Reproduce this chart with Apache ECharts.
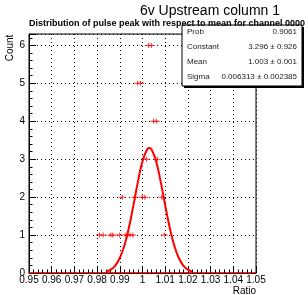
<!DOCTYPE html>
<html><head><meta charset="utf-8">
<script src="https://cdn.jsdelivr.net/npm/echarts@6/dist/echarts.min.js"></script>
<style>html,body{margin:0;padding:0;background:#fff}#c{width:308px;height:295px}</style>
</head><body><div id="c"></div>
<script>
// Histogram entries (x position of bins) grouped by bin count
var xCount1 = [0.9810, 0.9827, 0.9861, 0.9869, 0.9898, 0.9927, 0.9935, 0.9945, 0.9957, 1.0096];
var xCount2 = [0.9911, 0.9967, 0.9999, 1.0010, 1.0085];
var xCount3 = [1.0018, 1.0065];
var xCount4 = [1.0049, 1.0061];
var xCount5 = [0.9979, 0.9991];
var xCount6 = [1.0027, 1.0039];
// Fitted gaussian curve
var curveX = [0.984, 0.986, 0.988, 0.990, 0.992, 0.994, 0.996, 0.998, 1.000, 1.002, 1.003, 1.004, 1.006, 1.008, 1.010, 1.012, 1.014, 1.016, 1.018, 1.020, 1.022];
var curveY = [0.036, 0.088, 0.196, 0.396, 0.722, 1.193, 1.783, 2.409, 2.944, 3.255, 3.296, 3.255, 2.944, 2.409, 1.783, 1.193, 0.722, 0.396, 0.196, 0.088, 0.036];
var zeroLineX = [0.95, 1.05];
var statsLabels = ['Prob', 'Constant', 'Mean', 'Sigma'];
var statsValues = ['0.9061', '3.296 \u00b1 0.926', '1.003 \u00b1 0.001', '0.006313 \u00b1 0.002385'];
var titleText = '6v Upstream column 1';
var subTitleText = 'Distribution of pulse peak with respect to mean for channel 0000';

var pts = [];
[xCount1, xCount2, xCount3, xCount4, xCount5, xCount6].forEach(function (arr, i) {
  arr.forEach(function (x) { pts.push([x, i + 1]); });
});
var curve = curveX.map(function (x, i) { return [x, curveY[i]]; });
var zeroLine = zeroLineX.map(function (x) { return [x, 0]; });

var FONT = 'Liberation Sans, Arial, sans-serif';
var chart = echarts.init(document.getElementById('c'), null, {renderer: 'canvas'});

var gr = [];
gr.push({type: 'rect', shape: {x: 184, y: 27, width: 120, height: 61}, style: {fill: '#000'}, z: 5});
gr.push({type: 'rect', shape: {x: 182, y: 25, width: 120, height: 61}, style: {fill: '#fff', stroke: '#000', lineWidth: 1}, z: 6});
statsLabels.forEach(function (l, i) {
  gr.push({type: 'text', x: 187, y: 32 + i * 15, style: {text: l, font: '8px ' + FONT, fill: '#222', verticalAlign: 'middle', align: 'left'}, z: 7});
  gr.push({type: 'text', x: 297, y: 32 + i * 15, style: {text: statsValues[i], font: '8px ' + FONT, fill: '#222', verticalAlign: 'middle', align: 'right'}, z: 7});
});
gr.push({type: 'text', x: 256, y: 291, style: {text: 'Ratio', font: '10px ' + FONT, fill: '#000', align: 'right', verticalAlign: 'middle'}, z: 7});
gr.push({type: 'text', x: 10, y: 48, rotation: Math.PI / 2, style: {text: 'Count', font: '10px ' + FONT, fill: '#000', align: 'center', verticalAlign: 'middle'}, z: 7});

chart.setOption({
  animation: false,
  backgroundColor: '#fff',
  title: [
    {text: titleText, right: 28, top: 4, padding: 0, z: 100, textStyle: {fontSize: 14, fontWeight: 'normal', fontFamily: FONT, color: '#000'}},
    {text: subTitleText, left: 29, top: 19, padding: 0, z: 100, textStyle: {fontSize: 9, fontWeight: 'bold', fontFamily: FONT, color: '#000'}}
  ],
  grid: {left: 29, top: 34, right: 52, bottom: 22, show: true, borderColor: '#000', borderWidth: 1, backgroundColor: 'transparent'},
  xAxis: {
    type: 'value', min: 0.95, max: 1.05, interval: 0.01,
    axisLine: {show: true, lineStyle: {color: '#000', width: 1}},
    axisTick: {show: true, inside: true, length: 7, lineStyle: {color: '#000'}},
    minorTick: {show: true, splitNumber: 5, length: 3.5, lineStyle: {color: '#000'}},
    splitLine: {show: true, lineStyle: {color: '#000', type: [1, 3], width: 1}},
    axisLabel: {fontSize: 10, fontFamily: FONT, color: '#000', margin: 2,
      formatter: function (v) { return String(Math.round(v * 100) / 100); }}
  },
  yAxis: {
    type: 'value', min: 0, max: 6.3, interval: 1,
    axisLine: {show: true, lineStyle: {color: '#000', width: 1}},
    axisTick: {show: true, inside: true, length: 7, lineStyle: {color: '#000'}},
    minorTick: {show: true, splitNumber: 5, length: 3.5, lineStyle: {color: '#000'}},
    splitLine: {show: true, lineStyle: {color: '#000', type: [1, 3], width: 1}},
    axisLabel: {fontSize: 10, fontFamily: FONT, color: '#000', margin: 4, showMaxLabel: false,
      formatter: function (v) { return Math.abs(v - Math.round(v)) < 1e-6 ? String(Math.round(v)) : ''; }}
  },
  series: [
    {type: 'line', data: zeroLine, symbol: 'none', clip: false, lineStyle: {color: '#ff0000', width: 1}, z: 3},
    {type: 'scatter', data: pts, symbol: 'path://M0,2H7V3H0Z M3,0H4V5H3Z', symbolSize: [7, 5], itemStyle: {color: '#ff0000'}, z: 3},
    {type: 'line', data: curve, smooth: true, symbol: 'none', lineStyle: {color: '#ff0000', width: 2}, z: 4}
  ],
  graphic: gr
});
</script></body></html>
